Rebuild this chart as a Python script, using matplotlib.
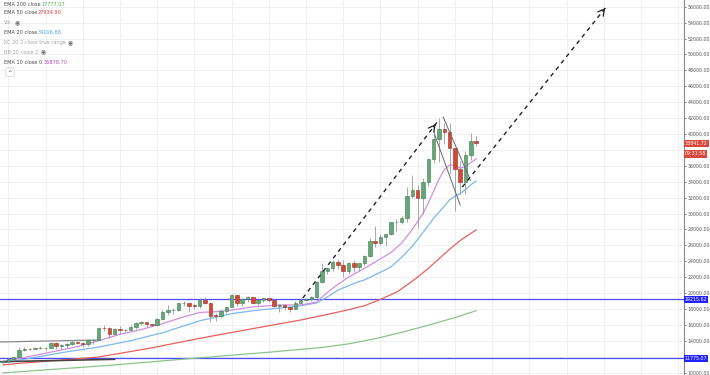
import numpy as np
import matplotlib
matplotlib.use("Agg")
import matplotlib.pyplot as plt

# Daily candles (first bar = index 0)
opens = [11360, 11505, 11750, 11915, 12820, 12990, 12930, 13120, 13040, 13070,
         13650, 13280, 13460, 13560, 13800, 13760, 13550, 14030, 14150, 15590,
         15580, 14840, 15480, 15330, 15300, 15700, 16280, 16320, 16070, 15960,
         16730, 17660, 17800, 17820, 18680, 18710, 18420, 18370, 19160, 18740,
         17150, 17140, 17720, 18180, 19700, 18790, 19220, 19450, 18700, 19150,
         19360, 19170, 18330, 18550, 18250, 18040, 18800, 19170, 19270, 19440,
         21350, 22800, 23130, 23870, 23480, 22740, 23820, 23240, 23730, 24710,
         26490, 26280, 27040, 27370, 28880, 28990, 29400, 32200, 33000, 31990,
         33990, 36830, 39400, 40670, 40240, 38240, 35540, 33920, 37320, 39150]
highs = [11490, 11820, 11990, 13220, 13180, 13030, 13160, 13350, 13240, 13790,
         13860, 13630, 13690, 14100, 13900, 13830, 14060, 14240, 15760, 15970,
         15770, 15650, 15850, 15460, 15960, 16340, 16480, 16330, 16150, 16890,
         17850, 18480, 18150, 18800, 18970, 18760, 18770, 19420, 19480, 18930,
         17460, 17880, 18350, 19860, 19920, 19340, 19580, 19500, 19180, 19420,
         19390, 19290, 18640, 18560, 18290, 18950, 19410, 19350, 19570, 21550,
         23770, 23260, 24170, 24300, 24100, 23840, 24120, 23800, 24800, 26870,
         28420, 27480, 27390, 28990, 29320, 29680, 33300, 34800, 33600, 34500,
         36950, 40400, 41950, 41380, 41400, 38260, 36630, 37850, 40100, 39750]
lows = [11330, 11410, 11690, 11900, 12700, 12880, 12900, 12900, 12780, 13060,
        12950, 12990, 13120, 13420, 13620, 13220, 13290, 13530, 14090, 15200,
        14350, 14720, 14840, 15080, 15290, 15440, 15980, 15700, 15880, 15880,
        16560, 17260, 17350, 17760, 18400, 17650, 18000, 18100, 18600, 16330,
        16500, 16880, 17520, 18180, 18320, 18340, 18920, 18600, 18520, 18860,
        18900, 18200, 17650, 17910, 17560, 18020, 18700, 19000, 19050, 19300,
        21250, 22350, 22780, 23070, 22010, 22360, 22700, 22710, 23450, 24500,
        25840, 26080, 25860, 27320, 27850, 28690, 28950, 32000, 28130, 29900,
        33400, 36300, 36500, 38720, 35000, 30300, 32500, 32400, 36700, 38500]
closes = [11505, 11750, 11915, 12820, 12990, 12930, 13120, 13040, 13070, 13650,
          13280, 13460, 13560, 13800, 13760, 13550, 14030, 14150, 15590, 15580,
          14840, 15480, 15330, 15300, 15700, 16280, 16320, 16070, 15960, 16730,
          17660, 17800, 17820, 18680, 18710, 18420, 18370, 19160, 18740, 17150,
          17140, 17720, 18180, 19700, 18790, 19220, 19450, 18700, 19150, 19360,
          19170, 18330, 18550, 18250, 18040, 18800, 19170, 19270, 19440, 21350,
          22800, 23130, 23870, 23480, 22740, 23820, 23240, 23730, 24710, 26490,
          26280, 27040, 27370, 28880, 28990, 29400, 32200, 33000, 31990, 33990,
          36830, 39400, 40670, 40240, 38240, 35540, 33920, 37320, 39150, 38842]

# EMA lines, read at a number of bars
ema10_idx = [0, 3, 6, 10, 14, 18, 22, 26, 30, 34, 37, 40, 43, 47, 52, 56, 59, 60, 62, 65, 68,
             70, 73, 75, 77, 79, 80, 81, 82, 83, 84, 85, 86, 87, 88, 89]
ema10_val = [11400, 11750, 12150, 12700, 13250, 14000, 14800, 15400, 16150, 17000, 17550,
             17650, 17850, 18250, 18500, 18500, 18850, 19500, 20600, 22000, 23100, 23900,
             25100, 26300, 28000, 30000, 31300, 32800, 34300, 35500, 36100, 36100, 35700,
             35900, 36400, 36879]
ema20_idx = [0, 6, 12, 18, 24, 30, 37, 43, 48, 52, 56, 59, 61, 63, 66, 68, 71, 73, 75, 77, 79,
             81, 83, 84, 85, 86, 87, 88, 89]
ema20_val = [11200, 11900, 12600, 13200, 14000, 15000, 16500, 17400, 17850, 18100, 18400, 18750,
             19500, 20350, 21200, 21650, 22600, 23300, 24500, 25900, 27600, 29400, 30900, 31700,
             32200, 32500, 33000, 33600, 34107]
ema50_idx = [0, 3, 10, 18, 28, 37, 46, 56, 61, 65, 68, 71, 74, 76, 78, 80, 82, 84, 86, 88, 89]
ema50_val = [10950, 11150, 11500, 11950, 13100, 14300, 15400, 16600, 17300, 17900, 18400,
             19200, 20100, 21000, 22000, 23100, 24300, 25500, 26600, 27500, 27935]
ema200_idx = [0, 20, 37, 50, 60, 65, 70, 75, 80, 85, 89]
ema200_val = [9950, 10900, 11850, 12550, 13150, 13600, 14250, 15050, 15950, 16900, 17777]

hlines = [19215.62, 11775.07]
last_price = 38841.72

W, H = 710, 375
fig = plt.figure(figsize=(W / 100, H / 100), dpi=100)
ax = fig.add_axes([0, 0, 684 / W, 1])
ax.set_xlim(-0.56, 128.1)
ax.set_ylim(9686, 56855)

# grid
for p in range(10000, 56001, 2000):
    ax.axhline(p, color="#eef0f4", lw=0.7, zorder=0)
for i in list(range(85, -1, -7)) + list(range(92, 130, 7)):
    ax.axvline(i, color="#eef0f4", lw=0.7, zorder=0)

# horizontal levels
for lv in hlines:
    ax.axhline(lv, color="#4b4bff", lw=0.9, zorder=2)

# EMA lines
ax.plot(ema200_idx, ema200_val, color="#8bc48a", lw=0.9, zorder=3)
ax.plot(ema50_idx, ema50_val, color="#e8605a", lw=0.9, zorder=3)
ax.plot(ema20_idx, ema20_val, color="#7db8ef", lw=0.9, zorder=3)
ax.plot(ema10_idx, ema10_val, color="#cf8fe0", lw=0.9, zorder=3)

# candles
x = np.arange(len(closes))
o = np.array(opens)
c = np.array(closes)
up = c >= o
ax.vlines(x, lows, highs, color="#9a9a9a", lw=0.6, zorder=4)
bottom = np.minimum(o, c)
height = np.maximum(np.abs(c - o), 80)
ax.bar(x[up], height[up], bottom=bottom[up], width=0.65, color="#66a677",
       edgecolor="#3f7a50", linewidth=0.4, zorder=5)
ax.bar(x[~up], height[~up], bottom=bottom[~up], width=0.65, color="#d04a35",
       edgecolor="#9a2f20", linewidth=0.4, zorder=5)

# drawings: trend lines
ax.plot([-0.5, 17.7], [13840, 14090], color="#8a8a8a", lw=0.9, zorder=3)
ax.plot([-0.5, 21], [11360, 11660], color="#444444", lw=1.2, zorder=3)
ax.plot([82.8, 87.9], [42140, 34210], color="#666666", lw=0.7, zorder=6)
ax.plot([81.2, 86.0], [39900, 31070], color="#666666", lw=0.7, zorder=6)

# dashed arrows
arrows = [((56.4, 19370), (81.7, 41510)), ((86.4, 33330), (113.6, 56100))]
for (x0, y0), (x1, y1) in arrows:
    ax.plot([x0, x1], [y0, y1], color="#222222", lw=1.0, ls=(0, (3, 3)), zorder=6)
    ax.annotate("", xy=(x1, y1), xytext=(x1 - (x1 - x0) * 0.04, y1 - (y1 - y0) * 0.04),
                arrowprops=dict(arrowstyle="->,head_length=0.45,head_width=0.25",
                                color="#222222", lw=0.9), zorder=6)

# right price axis (labels hidden where a price tag sits)
ax.yaxis.tick_right()
ticks = list(range(10000, 56001, 2000))
ax.set_yticks(ticks)
ax.set_yticklabels(["" if t in (12000, 38000) else f"{t:.2f}" for t in ticks])
ax.tick_params(axis="y", labelsize=3.4, colors="#555555", length=1.5, width=0.5, pad=1)
ax.set_xticks([])
for s in ["top", "bottom", "left"]:
    ax.spines[s].set_visible(False)
ax.spines["right"].set_color("#8a8a8a")
ax.spines["right"].set_linewidth(0.8)

tr = ax.get_yaxis_transform()
def tag(y, text, fc):
    ax.text(1.001, y, text, transform=tr, fontsize=3.4, color="white", va="center", ha="left",
            bbox=dict(boxstyle="square,pad=0.25", fc=fc, ec="none"), zorder=10, clip_on=False)
tag(last_price, "38841.72", "#d9483b")
tag(37500, "09:31:58", "#d9483b")
tag(hlines[0], "19215.62", "#2323ff")
tag(hlines[1], "11775.07", "#2323ff")

# legend block
def px(xp, yp):
    return xp / W, 1 - yp / H
legend = [
    (4.5, "EMA 200 close", 41, "17777.07", "#4caf50"),
    (12.7, "EMA 50 close", 38, "27934.90", "#e53935"),
    (33, "EMA 20 close", 38, "34106.86", "#42a5f5"),
    (62, "EMA 10 close 0", 44, "36878.70", "#ab47bc"),
]
for yy, lab, xv, val, col in legend:
    fig.text(*px(4, yy), lab, fontsize=3.6, color="#4a4a4a", va="center")
    fig.text(*px(xv, yy), val, fontsize=3.6, color=col, va="center")
hidden = [(22.7, "Vol", 15), (42.3, "KC 20 2 close true range", 68), (52, "BB 20 close 2", 41)]
for yy, lab, xe in hidden:
    fig.text(*px(4, yy), lab, fontsize=3.6, color="#a8a8a8", va="center")
    fig.text(*px(xe, yy), "◉", fontsize=4.2, color="#707070", va="center")
fig.text(*px(10, 72), "^", fontsize=4, color="#444444", va="center", ha="center",
         bbox=dict(boxstyle="round,pad=0.35", fc="white", ec="#cfcfcf", lw=0.5))

fig.savefig("out.png", dpi=100)
